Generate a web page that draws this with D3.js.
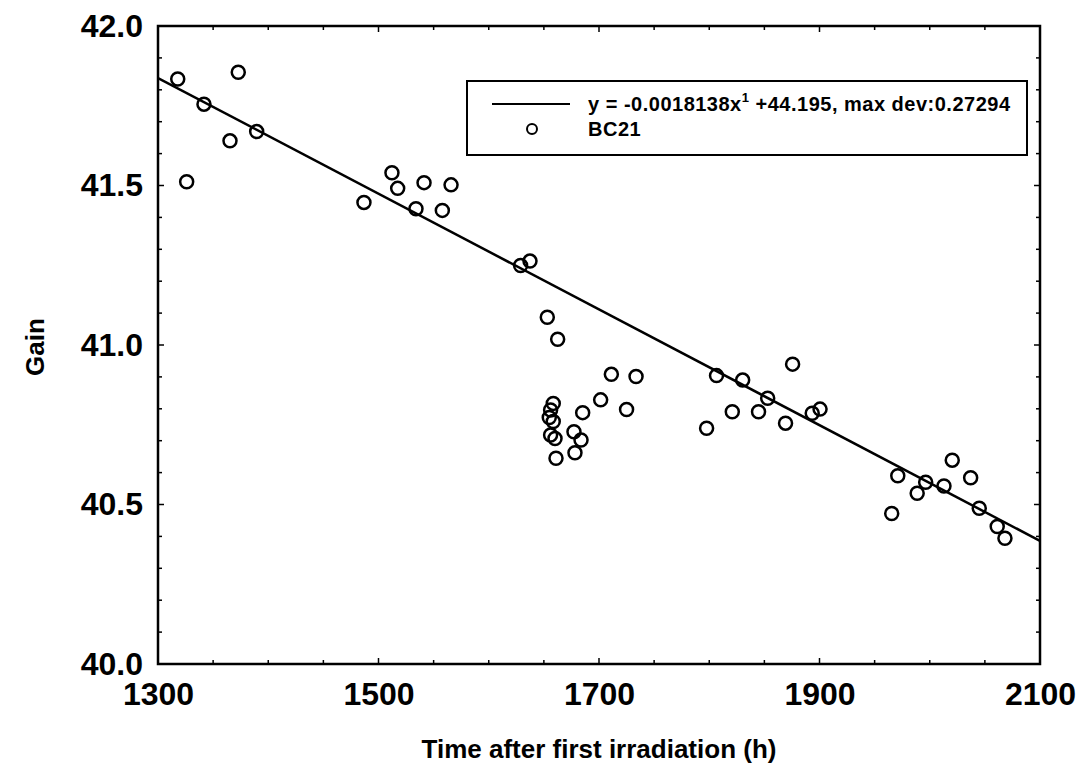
<!DOCTYPE html>
<html>
<head>
<meta charset="utf-8">
<script src="https://cdn.jsdelivr.net/npm/d3@7"></script>
<style>
  body { margin: 0; background: #fff; }
  svg { display: block; font-family: "Liberation Sans", Arial, sans-serif; }
  .tick-label { font-size: 32px; font-weight: bold; }
  .axis-title { font-size: 26px; font-weight: bold; }
  .legend-text { font-size: 20px; font-weight: bold; letter-spacing: 0.5px; }
</style>
</head>
<body>
<div id="chart"></div>
<script>
// Measured points (time after first irradiation in h, gain)
const timeHours = [
  1317.9, 1326.0, 1341.7, 1365.3, 1372.8, 1389.5,
  1486.8, 1512.2, 1517.4, 1534.0, 1541.3, 1557.9, 1565.8,
  1628.9, 1637.4, 1653.1, 1654.9, 1656.1, 1656.1, 1658.5, 1658.5,
  1660.1, 1661.0, 1662.5, 1677.3, 1678.2, 1683.7, 1685.2,
  1701.5, 1711.2, 1725.0, 1733.6, 1797.6, 1806.6, 1820.9, 1830.3,
  1844.7, 1853.0, 1869.2, 1875.6, 1893.4, 1900.5,
  1965.5, 1971.0, 1988.6, 1996.3, 2012.9, 2020.4, 2037.1, 2044.9,
  2061.2, 2068.2
];
const gainValues = [
  41.834, 41.512, 41.755, 41.640, 41.855, 41.669,
  41.447, 41.540, 41.491, 41.427, 41.509, 41.422, 41.502,
  41.249, 41.263, 41.087, 40.773, 40.796, 40.718, 40.817, 40.760,
  40.707, 40.645, 41.018, 40.728, 40.662, 40.702, 40.788,
  40.828, 40.908, 40.798, 40.901, 40.739, 40.904, 40.791, 40.890,
  40.791, 40.833, 40.755, 40.940, 40.786, 40.799,
  40.472, 40.590, 40.535, 40.570, 40.558, 40.639, 40.584, 40.488,
  40.431, 40.394
];

// Linear fit end points (from y = -0.0018138x + 44.195)
const fitX = [1300, 2100];
const fitY = [41.837, 40.386];

const xTicks = [1300, 1500, 1700, 1900, 2100];
const yTicks = [40.0, 40.5, 41.0, 41.5, 42.0];
const seriesName = "BC21";
const fitLabel = "y = -0.0018138x";
const fitLabelSup = "1";
const fitLabelRest = " +44.195, max dev:0.27294";

const W = 1082, H = 781;
const margin = { top: 26, right: 42, bottom: 117, left: 158 };
const width = W - margin.left - margin.right;
const height = H - margin.top - margin.bottom;

const svg = d3.select("#chart").append("svg")
  .attr("width", W)
  .attr("height", H);

const g = svg.append("g")
  .attr("transform", "translate(" + margin.left + "," + margin.top + ")");

const x = d3.scaleLinear().domain([1300, 2100]).range([0, width]);
const y = d3.scaleLinear().domain([40, 42]).range([height, 0]);

// minor ticks every 50 h and every 0.1 gain
const xMinor = d3.range(1300, 2100.1, 50);
const yMinor = d3.range(0, 21).map(i => 40 + i * 0.1);

const tickG = g.append("g").attr("stroke", "#000").attr("stroke-width", 1.5);
xMinor.forEach(v => {
  const len = (Math.round(v) % 200 === 100) ? 6 : 4;
  tickG.append("line").attr("x1", x(v)).attr("x2", x(v)).attr("y1", height).attr("y2", height - len);
  tickG.append("line").attr("x1", x(v)).attr("x2", x(v)).attr("y1", 0).attr("y2", len);
});
yMinor.forEach(v => {
  const len = (Math.round(v * 10) % 5 === 0) ? 6 : 4;
  tickG.append("line").attr("y1", y(v)).attr("y2", y(v)).attr("x1", 0).attr("x2", len);
  tickG.append("line").attr("y1", y(v)).attr("y2", y(v)).attr("x1", width).attr("x2", width - len);
});

// axes (labels only, frame drawn separately)
const xAxis = d3.axisBottom(x).tickValues(xTicks).tickSize(0).tickPadding(18)
  .tickFormat(d3.format("d"));
g.append("g")
  .attr("transform", "translate(0," + height + ")")
  .call(xAxis)
  .call(a => a.select(".domain").remove())
  .selectAll("text")
  .attr("class", "tick-label")
  .attr("fill", "#000")
  .style("font-family", "Liberation Sans, Arial, sans-serif");

const yAxis = d3.axisLeft(y).tickValues(yTicks).tickSize(0).tickPadding(15)
  .tickFormat(d3.format(".1f"));
g.append("g")
  .call(yAxis)
  .call(a => a.select(".domain").remove())
  .selectAll("text")
  .attr("class", "tick-label")
  .attr("fill", "#000")
  .style("font-family", "Liberation Sans, Arial, sans-serif");

// clip for the plot content
svg.append("defs").append("clipPath").attr("id", "plot-clip")
  .append("rect").attr("width", width).attr("height", height);

const plot = g.append("g").attr("clip-path", "url(#plot-clip)");

// fit line
plot.append("path")
  .datum(fitX.map((d, i) => [d, fitY[i]]))
  .attr("fill", "none")
  .attr("stroke", "#000")
  .attr("stroke-width", 2.5)
  .attr("d", d3.line().x(d => x(d[0])).y(d => y(d[1])));

// data points
plot.selectAll("circle.pt")
  .data(timeHours.map((d, i) => ({ t: d, gain: gainValues[i] })))
  .join("circle")
  .attr("class", "pt")
  .attr("cx", d => x(d.t))
  .attr("cy", d => y(d.gain))
  .attr("r", 6.5)
  .attr("fill", "none")
  .attr("stroke", "#000")
  .attr("stroke-width", 2.5);

// frame
g.append("rect")
  .attr("width", width)
  .attr("height", height)
  .attr("fill", "none")
  .attr("stroke", "#000")
  .attr("stroke-width", 2.5);

// axis titles
svg.append("text")
  .attr("class", "axis-title")
  .attr("x", margin.left + width / 2)
  .attr("y", 758)
  .attr("text-anchor", "middle")
  .text("Time after first irradiation (h)");

svg.append("text")
  .attr("class", "axis-title")
  .attr("transform", "translate(44," + (margin.top + height / 2 + 2) + ") rotate(-90)")
  .attr("text-anchor", "middle")
  .text("Gain");

// legend
const legend = svg.append("g").attr("class", "legend");
legend.append("rect")
  .attr("x", 467).attr("y", 81)
  .attr("width", 560).attr("height", 74)
  .attr("fill", "#fff")
  .attr("stroke", "#000")
  .attr("stroke-width", 2);

legend.append("line")
  .attr("x1", 492).attr("x2", 570)
  .attr("y1", 104).attr("y2", 104)
  .attr("stroke", "#000").attr("stroke-width", 2);

legend.append("circle")
  .attr("cx", 532).attr("cy", 129).attr("r", 5)
  .attr("fill", "none").attr("stroke", "#000").attr("stroke-width", 2);

const fitText = legend.append("text")
  .attr("class", "legend-text")
  .attr("x", 588).attr("y", 111);
fitText.append("tspan").text(fitLabel);
fitText.append("tspan").attr("dy", -9).style("font-size", "13px").text(fitLabelSup);
fitText.append("tspan").attr("dy", 9).text(fitLabelRest);

legend.append("text")
  .attr("class", "legend-text")
  .attr("x", 588).attr("y", 136)
  .text(seriesName);
</script>
</body>
</html>
